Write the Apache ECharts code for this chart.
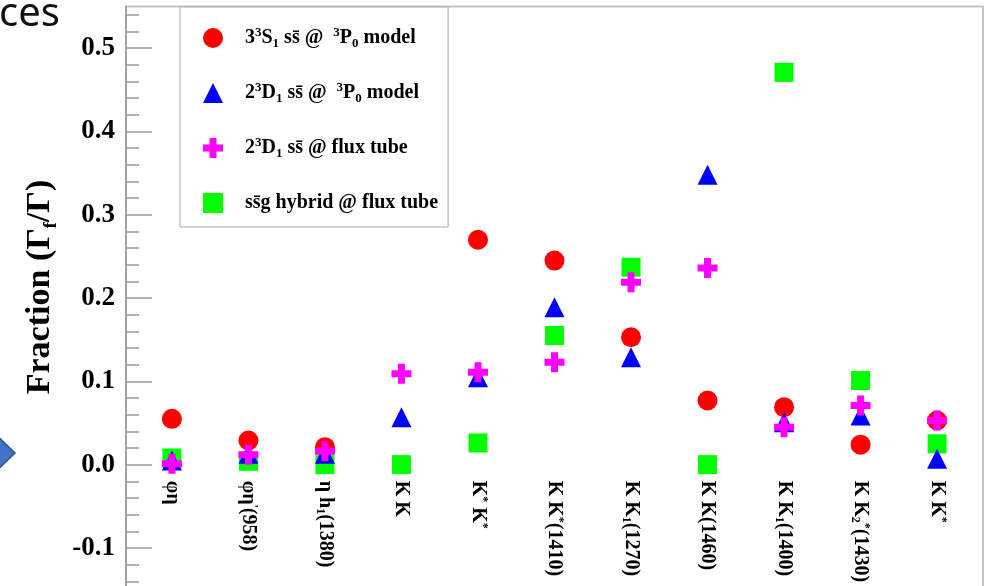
<!DOCTYPE html>
<html>
<head>
<meta charset="utf-8">
<script src="https://cdn.jsdelivr.net/npm/echarts@6/dist/echarts.min.js"></script>
<style>
  html, body { margin: 0; padding: 0; background: #fff; }
  #chart { width: 991px; height: 586px; }
</style>
</head>
<body>
<div id="chart"></div>
<script>
// Decay channels (rich-text markup for sub/superscripts)
const channelLabels = [
  'φη',
  'φη{sup|\'}(958)',
  'η h{sub|1}(1380)',
  'K K',
  'K{sup|*} K{sup|*}',
  'K K{sup|*}(1410)',
  'K K{sub|1}(1270)',
  'K K(1460)',
  'K K{sub|1}(1400)',
  'K K{sub|2}{sup|*}(1430)',
  'K K{sup|*}'
];
const channelPositions = [0, 1, 2, 3, 4, 5, 6, 7, 8, 9, 10];

// Y axis major tick values
const yTicks = [-0.2, -0.1, 0.0, 0.1, 0.2, 0.3, 0.4, 0.5];

// Branching fractions per channel (null: channel not shown)
const fracS33S1 = [0.055, 0.029, 0.021, null, 0.270, 0.245, 0.153, 0.077, 0.069, 0.024, 0.053];
const fracD23D1_3P0 = [0.005, 0.013, 0.013, 0.057, 0.105, 0.189, 0.129, 0.348, 0.051, 0.059, 0.007];
const fracD23D1_flux = [0.001, 0.012, 0.016, 0.109, 0.111, 0.123, 0.219, 0.236, 0.045, 0.071, 0.053];
const fracHybrid = [0.008, 0.004, 0.0, 0.0, 0.026, 0.155, 0.237, 0.0, 0.471, 0.101, 0.025];

// Legend entries
const legendNames = ['s33S1', 'd23D1_3P0', 'd23D1_flux', 'hybrid'];
const legendText = {
  s33S1: '3{sup|3}S{sub|1} ss\u0304 @  {sup|3}P{sub|0} model',
  d23D1_3P0: '2{sup|3}D{sub|1} ss\u0304 @  {sup|3}P{sub|0} model',
  d23D1_flux: '2{sup|3}D{sub|1} ss\u0304 @ flux tube',
  hybrid: 'ss\u0304g hybrid @ flux tube'
};

const SERIF = '"Liberation Serif", "Times New Roman", serif';
const crossPath = 'path://M6.5,0H13.5V6.5H20V13.5H13.5V20H6.5V13.5H0V6.5H6.5Z';

// Value range of the frame and its pixel extent
const Y_MIN = -0.2, Y_MAX = 0.55;
const GRID_TOP = 6.5, PX_PER_UNIT = 833;
const gridBottomY = GRID_TOP + (Y_MAX - Y_MIN) * PX_PER_UNIT;
const zeroLineY = GRID_TOP + Y_MAX * PX_PER_UNIT;

function richSet(small, lh) {
  return {
    sup: { fontSize: small, fontWeight: 'bold', fontFamily: SERIF, color: '#000', verticalAlign: 'top', lineHeight: lh },
    sub: { fontSize: small, fontWeight: 'bold', fontFamily: SERIF, color: '#000', verticalAlign: 'bottom', lineHeight: lh }
  };
}

function toPairs(arr) {
  return arr.map((v, i) => [channelPositions[i], v]);
}

const chart = echarts.init(document.getElementById('chart'), null, { renderer: 'canvas' });

chart.setOption({
  animation: false,
  backgroundColor: '#fff',
  grid: {
    show: true,
    left: 126,
    right: 8,
    top: GRID_TOP,
    bottom: 586 - gridBottomY,
    outerBoundsMode: 'none',
    containLabel: false,
    borderColor: '#c4c4c4',
    borderWidth: 2,
    backgroundColor: 'transparent'
  },
  legend: {
    data: legendNames,
    orient: 'vertical',
    left: 180,
    top: 7,
    padding: [19, 10, 12, 23],
    itemGap: 31,
    itemWidth: 20,
    itemHeight: 20,
    borderColor: '#a8a8a8',
    borderWidth: 1,
    backgroundColor: '#fff',
    formatter: name => legendText[name],
    textStyle: {
      fontSize: 20,
      fontWeight: 'bold',
      fontFamily: SERIF,
      color: '#000',
      padding: [0, 0, 0, 17],
      lineHeight: 24,
      rich: richSet(13, 24)
    }
  },
  xAxis: {
    type: 'value',
    min: -0.6,
    max: 10.6,
    // channel labels hang just under the zero line
    offset: -(gridBottomY - zeroLineY),
    axisLine: { show: false, onZero: false },
    axisTick: { show: false },
    splitLine: { show: false },
    axisLabel: {
      customValues: channelPositions,
      rotate: -90,
      margin: 16,
      fontSize: 20,
      fontWeight: 'bold',
      fontFamily: SERIF,
      color: '#000',
      lineHeight: 22,
      formatter: v => channelLabels[Math.round(v)],
      rich: richSet(12, 22)
    }
  },
  yAxis: {
    type: 'value',
    min: Y_MIN,
    max: Y_MAX,
    interval: 0.1,
    axisLine: { show: true, onZero: false, lineStyle: { color: '#999', width: 1.5 } },
    axisTick: { show: true, inside: true, length: 26, customValues: yTicks, lineStyle: { color: '#999', width: 1.5 } },
    minorTick: { show: true, splitNumber: 5, length: 13, lineStyle: { color: '#999', width: 1.5 } },
    splitLine: { show: false },
    minorSplitLine: { show: false },
    axisLabel: {
      customValues: yTicks,
      formatter: v => v.toFixed(1),
      fontSize: 27,
      fontWeight: 'bold',
      fontFamily: SERIF,
      color: '#000',
      margin: 11
    }
  },
  series: [
    {
      name: 's33S1', type: 'scatter', z: 2,
      symbol: 'circle', symbolSize: 20,
      itemStyle: { color: '#ff0000', opacity: 1 },
      data: toPairs(fracS33S1)
    },
    {
      name: 'd23D1_3P0', type: 'scatter', z: 4,
      symbol: 'triangle', symbolSize: 20,
      itemStyle: { color: '#0000ff', opacity: 1 },
      data: toPairs(fracD23D1_3P0)
    },
    {
      name: 'd23D1_flux', type: 'scatter', z: 5,
      symbol: crossPath, symbolSize: 20,
      itemStyle: { color: '#ff00ff', opacity: 1 },
      data: toPairs(fracD23D1_flux)
    },
    {
      name: 'hybrid', type: 'scatter', z: 3,
      symbol: 'rect', symbolSize: 19,
      itemStyle: { color: '#00ff00', opacity: 1 },
      data: toPairs(fracHybrid)
    }
  ],
  graphic: [
    {
      type: 'text', x: 40, y: 287, rotation: Math.PI / 2,
      style: {
        text: 'Fraction (Γ{sub|f}/Γ)',
        font: 'bold 34px ' + SERIF,
        fill: '#000',
        align: 'center',
        verticalAlign: 'middle',
        rich: {
          sub: { fontSize: 18, fontWeight: 'bold', fontFamily: SERIF, fill: '#000', verticalAlign: 'bottom', lineHeight: 40 }
        }
      }
    },
    {
      type: 'text', x: -1, y: 15,
      style: {
        text: 'ces',
        font: '40px "Noto Sans", sans-serif',
        fill: '#111',
        align: 'left',
        verticalAlign: 'middle'
      }
    },
    {
      type: 'polygon',
      shape: { points: [[-12, 427], [15, 453], [-12, 479]] },
      style: { fill: '#4472c4', stroke: '#2f528f', lineWidth: 1.5 }
    }
  ]
});
</script>
</body>
</html>
